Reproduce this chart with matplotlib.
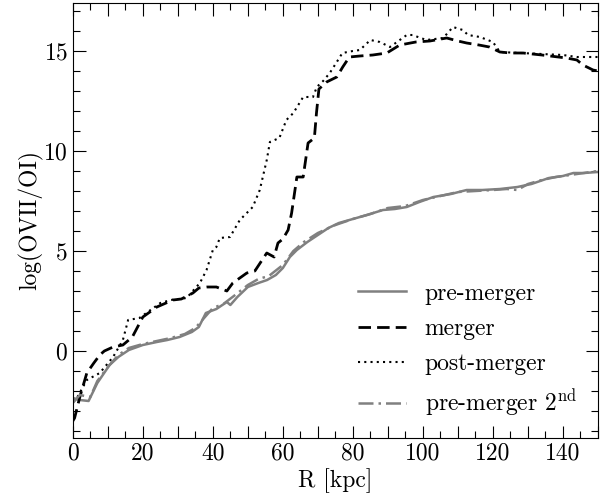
import matplotlib
matplotlib.use("Agg")
import matplotlib.pyplot as plt
from matplotlib.ticker import MultipleLocator, FuncFormatter

plt.rcParams['font.family'] = 'serif'
plt.rcParams['font.serif'] = ['cmr10']
plt.rcParams['mathtext.fontset'] = 'cm'
plt.rcParams['axes.formatter.use_mathtext'] = True
plt.rcParams['font.size'] = 17

# pre-merger (solid grey)
pre_r = [0, 2, 4.5, 7, 10.5, 13, 16, 20, 24, 27, 30.5, 34, 36, 38, 41, 44, 45, 47, 50, 53,
         55.5, 58, 60, 62, 64, 67, 70, 73, 76, 80, 84, 88.6, 92, 95.4, 99, 103, 108, 112.5,
         117, 122, 127, 131, 136, 140, 143, 146, 150]
pre_v = [-2.35, -2.45, -2.5, -1.6, -0.7, -0.3, 0.05, 0.3, 0.45, 0.55, 0.7, 0.95, 1.2, 1.9,
         2.1, 2.45, 2.3, 2.7, 3.2, 3.4, 3.55, 3.8, 4.15, 4.7, 5.05, 5.45, 5.8, 6.15, 6.4, 6.6,
         6.8, 7.05, 7.1, 7.2, 7.45, 7.7, 7.85, 8.05, 8.05, 8.1, 8.2, 8.35, 8.65, 8.75, 8.9,
         8.9, 8.95]

# merger (dashed black)
mer_r = [0, 0.5, 2, 4, 6, 7.7, 9, 11.5, 14.3, 17, 20, 22, 24, 28.6, 31, 34.3, 36, 38.3, 41,
         44, 45.7, 49.7, 52, 55.4, 57.5, 58.6, 60, 61.5, 62.5, 64, 65.8, 67.2, 69, 69.6, 70.3,
         72.5, 75.4, 77.1, 79, 82, 85.7, 89.7, 93.4, 98, 102, 106.8, 110, 112.5, 116, 119,
         122, 125, 128.6, 134, 141, 144, 145.7, 148.6, 150]
mer_v = [-3.5, -3.35, -2.3, -1.1, -0.6, -0.2, 0.0, 0.2, 0.3, 0.7, 1.7, 1.95, 2.2, 2.55, 2.6,
         2.9, 3.15, 3.2, 3.2, 3.0, 3.4, 3.9, 4.0, 4.9, 4.7, 5.4, 5.6, 6.05, 6.9, 8.7, 8.7,
         10.4, 10.65, 11.9, 13.1, 13.45, 13.7, 14.2, 14.7, 14.75, 14.8, 14.9, 15.3, 15.45,
         15.5, 15.65, 15.5, 15.4, 15.3, 15.2, 14.95, 14.9, 14.9, 14.8, 14.65, 14.55, 14.3,
         14.05, 14.0]

# post-merger (dotted black)
post_r = [0, 1, 4, 7.7, 11.5, 14.3, 15.8, 19, 21, 25, 28, 32.5, 36.3, 38.2, 40, 41, 42,
          44.9, 47.7, 51.4, 53.4, 55.4, 56.3, 59, 61, 63, 65.8, 68.6, 69.7, 71.5, 73.4, 75.4,
          77, 80, 82, 85, 87.7, 90.6, 93, 95.4, 97, 101, 105.8, 108.6, 111.4, 112.9, 116.3,
          120, 122, 128, 134, 140, 144, 150]
post_v = [-2.5, -2.4, -1.45, -1.1, -0.3, 0.55, 1.55, 1.65, 1.9, 2.4, 2.55, 2.65, 3.4, 4.05,
          5.05, 5.2, 5.65, 5.7, 6.55, 7.2, 8.05, 9.55, 10.45, 10.65, 11.55, 11.9, 12.7, 12.7,
          13.2, 13.5, 13.9, 14.45, 14.9, 15.0, 15.05, 15.55, 15.45, 15.2, 15.5, 15.8, 15.8,
          15.55, 15.65, 16.2, 16.05, 15.8, 15.7, 15.45, 14.95, 14.9, 14.85, 14.8, 14.7, 14.7]

# pre-merger 2nd (dash-dot grey)
pre2_r = [0, 2, 5, 7, 10, 13, 16, 20, 24, 28, 32, 35, 38, 40, 43, 46, 50, 53, 56, 60, 63,
          66, 70, 75, 80, 85, 90, 95, 100, 105, 110, 115, 120, 124, 127, 130, 134, 138, 142,
          146, 150]
pre2_v = [-2.6, -2.2, -2.3, -1.5, -0.8, -0.2, 0.15, 0.35, 0.5, 0.65, 0.85, 1.15, 1.75, 2.15,
          2.35, 2.75, 3.3, 3.6, 3.75, 4.3, 5.0, 5.45, 5.9, 6.3, 6.6, 6.85, 7.15, 7.25, 7.55,
          7.75, 7.95, 8.0, 8.05, 8.1, 8.05, 8.35, 8.55, 8.7, 8.8, 8.9, 9.0]

grey = '#808080'

fig = plt.figure(figsize=(6.12, 5.0), dpi=100)
ax = fig.add_axes([0.119, 0.124, 0.858, 0.870])

ax.plot(pre_r, pre_v, color=grey, lw=1.8, label='pre-merger')
ax.plot(mer_r, mer_v, color='black', lw=2.0, ls=(0, (4.5, 2.2)), label='merger')
ax.plot(post_r, post_v, color='black', lw=1.5, ls=(0, (1, 2)), label='post-merger')
ax.plot(pre2_r, pre2_v, color=grey, lw=1.8, ls=(0, (6, 2, 1, 2)), label='pre-merger 2$^{\\rm nd}$')

ax.set_xlim(0, 150)
ax.set_ylim(-4.35, 17.4)
ax.xaxis.set_major_locator(MultipleLocator(10))
ax.xaxis.set_minor_locator(MultipleLocator(5))
ax.xaxis.set_major_formatter(FuncFormatter(lambda v, p: '%d' % v if int(round(v)) % 20 == 0 else ''))
ax.yaxis.set_major_locator(MultipleLocator(5))
ax.yaxis.set_minor_locator(MultipleLocator(1))
ax.tick_params(which='both', direction='in', top=True, right=True, width=0.8)
ax.tick_params(which='major', length=9)
ax.tick_params(which='minor', length=5)

ax.set_xlabel('R [kpc]', labelpad=2)
ax.set_ylabel('log(OVII/OI)', labelpad=0)

ax.legend(loc='lower right', frameon=False, bbox_to_anchor=(1.0, -0.005),
          labelspacing=0.55)

fig.savefig('out.png', dpi=100)
